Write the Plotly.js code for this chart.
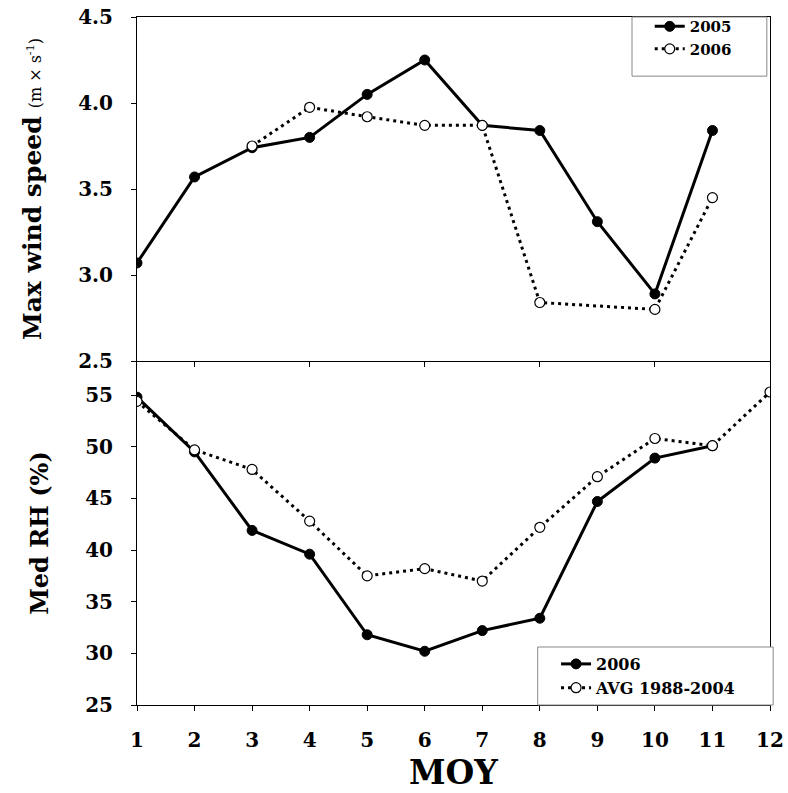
<!DOCTYPE html>
<html>
<head>
<meta charset="utf-8">
<script src="https://cdn.plot.ly/plotly-3.0.1.min.js"></script>
<style>html,body{margin:0;padding:0;background:#fff;}#chart{width:788px;height:793px;}</style>
</head>
<body>
<div id="chart"></div>
<script>
// ---- data ----
const months = [1,2,3,4,5,6,7,8,9,10,11];
const wind2005 = [3.07, 3.57, 3.74, 3.80, 4.05, 4.25, 3.87, 3.84, 3.31, 2.89, 3.84];
const monthsWind2006 = [3,4,5,6,7,8,10,11];
const wind2006 = [3.75, 3.975, 3.92, 3.87, 3.87, 2.84, 2.80, 3.45];

const monthsRH2006 = [1,2,3,4,5,6,7,8,9,10,11];
const rh2006 = [54.8, 49.5, 41.9, 39.6, 31.8, 30.2, 32.2, 33.4, 44.7, 48.9, 50.1];
const monthsRHavg = [1,2,3,4,5,6,7,8,9,10,11,12];
const rhAvg = [54.4, 49.7, 47.8, 42.8, 37.5, 38.2, 37.0, 42.2, 47.1, 50.8, 50.1, 55.3];

const monthTicks = [1,2,3,4,5,6,7,8,9,10,11,12];
const topTicks = [2,4,6,8,10,12];

const SERIF = "DejaVu Serif, Liberation Serif, serif";

const solidLine = {color:'#000', width:3};
const dotLine = {color:'#000', width:3, dash:'3px,4px'};
const filledMarker = {symbol:'circle', size:10, color:'#000', line:{color:'#000', width:1}};
const openMarker = {symbol:'circle', size:10, color:'#fff', line:{color:'#000', width:1.2}};

const traces = [
  {x: months, y: wind2005, name:'2005', mode:'lines+markers', line:solidLine, marker:filledMarker, xaxis:'x2', yaxis:'y2', legend:'legend'},
  {x: monthsWind2006, y: wind2006, name:'2006', mode:'lines+markers', line:dotLine, marker:openMarker, xaxis:'x2', yaxis:'y2', legend:'legend'},
  {x: monthsRH2006, y: rh2006, name:'2006', mode:'lines+markers', line:solidLine, marker:filledMarker, xaxis:'x', yaxis:'y', legend:'legend2'},
  {x: monthsRHavg, y: rhAvg, name:'AVG 1988-2004', mode:'lines+markers', line:dotLine, marker:openMarker, xaxis:'x', yaxis:'y', legend:'legend2'}
];

const tickFont = {family:SERIF, size:20, color:'#000', weight:'bold'};

const layout = {
  width:788, height:793,
  margin:{l:137, r:18, t:17, b:88, autoexpand:false},
  paper_bgcolor:'#fff', plot_bgcolor:'#fff',
  showlegend:true,
  xaxis:{
    domain:[0,1], anchor:'y', range:[1,12], tickvals:monthTicks,
    showline:true, linecolor:'#000', linewidth:1, mirror:false,
    ticks:'outside', ticklen:5, tickcolor:'#000', showgrid:false, zeroline:false,
    tickfont:tickFont, ticklabelstandoff:12,
    title:{text:'<b>MOY</b>', font:{family:SERIF, size:33, color:'#000'}, standoff:9}
  },
  xaxis2:{
    domain:[0,1], anchor:'y2', matches:'x', range:[1,12], tickvals:topTicks,
    showline:true, linecolor:'#000', linewidth:1, mirror:true,
    ticks:'outside', ticklen:5, tickcolor:'#000', showgrid:false, zeroline:false,
    showticklabels:false
  },
  yaxis:{
    domain:[0,0.5], anchor:'x', range:[25,58.3], tickvals:[25,30,35,40,45,50,55],
    showline:true, linecolor:'#000', linewidth:1, mirror:true,
    ticks:'outside', ticklen:5, tickcolor:'#000', showgrid:false, zeroline:false,
    tickfont:tickFont, ticklabelstandoff:14,
    title:{text:'<b>Med RH (%)</b>', font:{family:SERIF, size:24, color:'#000'}, standoff:29}
  },
  yaxis2:{
    domain:[0.5,1], anchor:'x2', range:[2.5,4.5], tickvals:[2.5,3.0,3.5,4.0,4.5], tickformat:'.1f',
    showline:true, linecolor:'#000', linewidth:1, mirror:true,
    ticks:'outside', ticklen:5, tickcolor:'#000', showgrid:false, zeroline:false,
    tickfont:tickFont, ticklabelstandoff:14,
    title:{text:"<b>Max wind speed</b> <span style='font-size:16px'>(m × s<sup>-1</sup>)</span>", font:{family:SERIF, size:25, color:'#000'}, standoff:29}
  },
  shapes:[
    {type:'rect', xref:'paper', yref:'paper', x0:0.782, x1:0.995, y0:0.914, y1:1.0, fillcolor:'#fff', line:{color:'#888', width:1}, layer:'above'},
    {type:'rect', xref:'paper', yref:'paper', x0:0.633, x1:1.005, y0:0.0, y1:0.0843, fillcolor:'#fff', line:{color:'#888', width:1}, layer:'above'}
  ],
  legend:{
    x:0.81, y:1.01, xanchor:'left', yanchor:'top',
    borderwidth:0, bgcolor:'rgba(0,0,0,0)',
    font:{family:SERIF, size:15, color:'#000', weight:'bold'},
    tracegroupgap:0, itemwidth:30
  },
  legend2:{
    x:0.662, y:0.0843, xanchor:'left', yanchor:'top',
    borderwidth:0, bgcolor:'rgba(0,0,0,0)',
    font:{family:SERIF, size:16, color:'#000', weight:'bold'},
    tracegroupgap:0, itemwidth:30
  }
};

Plotly.newPlot('chart', traces, layout, {staticPlot:true, displayModeBar:false});
</script>
</body>
</html>
